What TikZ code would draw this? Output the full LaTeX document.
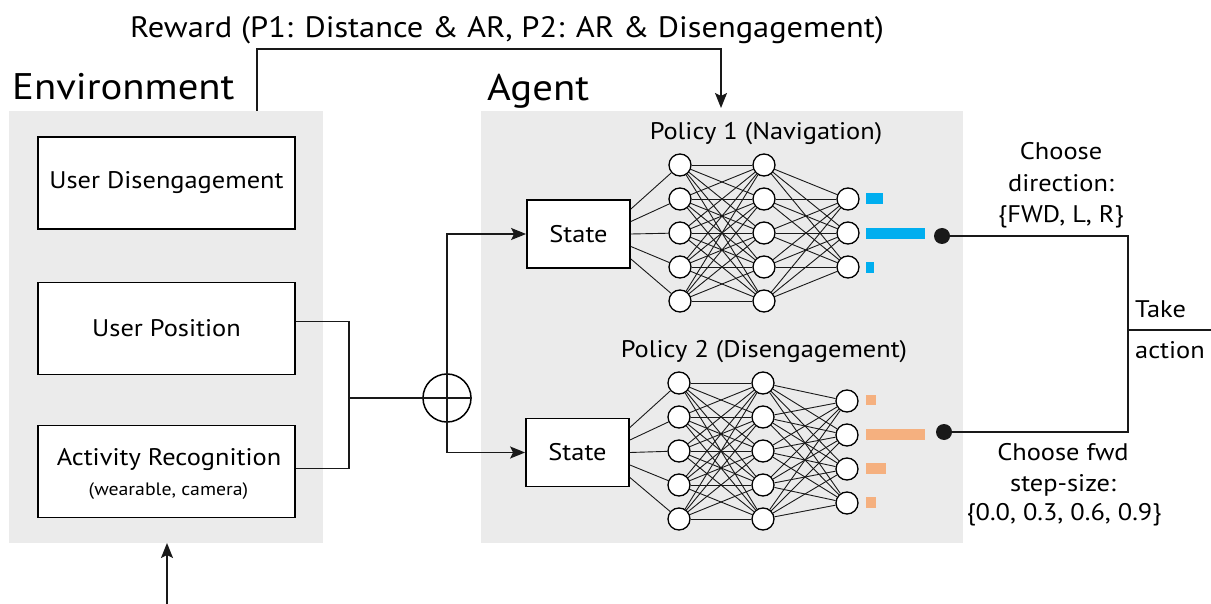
\documentclass[tikz,border=0pt]{standalone}
\usepackage{fontspec}
\setmainfont{PT Sans}[FakeStretch=1.1]
\usetikzlibrary{arrows.meta,calc}
\definecolor{panel}{HTML}{EBEBEB}
\definecolor{navblue}{HTML}{00AEEF}
\definecolor{stepor}{HTML}{F5B07F}
\tikzset{
  wire/.style={line width=1.6pt, black!90},
  arr/.style={wire, -{Stealth[length=15pt,width=12pt,inset=3pt]}},
  inbox/.style={draw, line width=1.8pt, fill=white, minimum width=257pt, minimum height=92pt, inner sep=0pt, align=center, font=\fontsize{24}{28}\selectfont},
  statebox/.style={draw, line width=1.8pt, fill=white, minimum width=103pt, minimum height=68pt, inner sep=0pt, font=\fontsize{24}{28}\selectfont},
  neuron/.style={circle, draw, line width=1.3pt, fill=white, minimum size=22pt, inner sep=0pt},
  syn/.style={line width=0.9pt, black!90},
  title/.style={anchor=base west, inner sep=0pt, font=\fontsize{37}{40}\selectfont},
  lbl/.style={anchor=base, inner sep=0pt, font=\fontsize{24}{28}\selectfont},
}
\begin{document}
\begin{tikzpicture}[x=1pt,y=-1pt]
\useasboundingbox (0,0) rectangle (1211,604);
\fill[white] (0,0) rectangle (1211,604);

% panels
\fill[panel] (9,111) rectangle (323,543);
\fill[panel] (481,111) rectangle (963,543);
\node[title] (envt) at (12,100) {Environment};
\node[title] (agt) at (487,101) {Agent};

% reward label and feedback
\node[anchor=base, inner sep=0pt, font=\fontsize{29.5}{34}\selectfont] (rew) at (507,38)
  {Reward (P1: Distance \& AR, P2: AR \& Disengagement)};
\coordinate (rwA) at (257,111);
\coordinate (rwB) at (721,108);
\draw[arr] (rwA) -- (257,49) -| (rwB);

% environment inputs
\node[inbox] (dis) at (166.5,183) {User Disengagement};
\node[inbox] (pos) at (166.5,328.5) {User Position};
\node[inbox] (act) at (166.5,471.5) {};
\node[lbl] (actA) at (169,465) {Activity Recognition};
\node[lbl, font=\fontsize{18}{20}\selectfont] (actB) at (168.5,495) {(wearable, camera)};

% bottom feedback into the environment
\coordinate (fbA) at (167,604);
\coordinate (fbB) at (167,543);
\draw[arr] (fbA) -- (fbB);

% merge of position and activity
\coordinate (jn) at (349,398);
\node[circle, draw, line width=1.5pt, minimum size=48pt, inner sep=0pt] (sum) at (447,398) {};
\draw[wire] ($(pos.east)+(0,-7)$) -| (jn);
\draw[wire] ($(act.east)+(0,-3)$) -| (jn);
\draw[wire] (jn) -- (sum.east);
\draw[wire] (sum.north) -- (sum.south);

% state boxes
\node[statebox] (s1) at (578.5,234) {State};
\node[statebox] (s2) at (577.5,452.5) {State};
\draw[arr] (sum.north) |- (s1.west);
\draw[arr] (sum.south) |- (s2.west);

% policy 1
\node[lbl] (p1t) at (766,140) {Policy 1 (Navigation)};
\foreach \i/\y in {1/165,2/199,3/233,4/267,5/301} {
  \node[neuron] (p1a\i) at (680,\y) {};
  \node[neuron] (p1b\i) at (764,\y) {};
}
\foreach \i/\y in {1/199,2/233,3/267} \node[neuron] (p1c\i) at (848,\y) {};
\foreach \i/\o in {1/-25,2/-12.5,3/0,4/12.5,5/25}
  \draw[syn] ($(s1.east)+(0,\o)$) -- (p1a\i);
\foreach \i in {1,...,5} \foreach \j in {1,...,5} \draw[syn] (p1a\i) -- (p1b\j);
\foreach \i in {1,...,5} \foreach \j in {1,2,3} \draw[syn] (p1b\i) -- (p1c\j);
\fill[navblue] (866,193) rectangle (883,204);
\fill[navblue] (866,228) rectangle (925,239);
\fill[navblue] (866,262) rectangle (874,273);

% policy 2
\node[lbl] (p2t) at (764,357) {Policy 2 (Disengagement)};
\foreach \i/\y in {1/383,2/417,3/451,4/485,5/519} {
  \node[neuron] (p2a\i) at (679,\y) {};
  \node[neuron] (p2b\i) at (763,\y) {};
}
\foreach \i/\y in {1/401,2/435,3/469,4/503} \node[neuron] (p2c\i) at (847,\y) {};
\foreach \i/\o in {1/-25,2/-12.5,3/0,4/12.5,5/25}
  \draw[syn] ($(s2.east)+(0,\o)$) -- (p2a\i);
\foreach \i in {1,...,5} \foreach \j in {1,...,5} \draw[syn] (p2a\i) -- (p2b\j);
\foreach \i in {1,...,5} \foreach \j in {1,...,4} \draw[syn] (p2b\i) -- (p2c\j);
\fill[stepor] (866,395) rectangle (876,405);
\fill[stepor] (866,429) rectangle (925,440);
\fill[stepor] (866,463) rectangle (886,474);
\fill[stepor] (866,497) rectangle (876,508);

% action selection
\node[circle, fill=black!90, minimum size=16pt, inner sep=0pt] (d1) at (942,236) {};
\node[circle, fill=black!90, minimum size=16pt, inner sep=0pt] (d2) at (944,432) {};
\coordinate (tk) at (1128,330);
\coordinate (out) at (1211,330);
\draw[wire] (d1) -| (tk);
\draw[wire] (d2) -| (tk);
\draw[wire] (tk) -- (out);

\node[lbl] (c1a) at (1061,160) {Choose};
\node[lbl] (c1b) at (1061,192) {direction:};
\node[lbl] (c1c) at (1061,223) {\{FWD, L, R\}};
\node[lbl] (c2a) at (1063,460) {Choose fwd};
\node[lbl] (c2b) at (1063,491) {step-size:};
\node[lbl] (c2c) at (1064,520) {\{0.0, 0.3, 0.6, 0.9\}};
\node[lbl, anchor=base west] (ta) at (1135,318) {Take};
\node[lbl, anchor=base west] (tb) at (1135,358) {action};
\end{tikzpicture}
\end{document}
